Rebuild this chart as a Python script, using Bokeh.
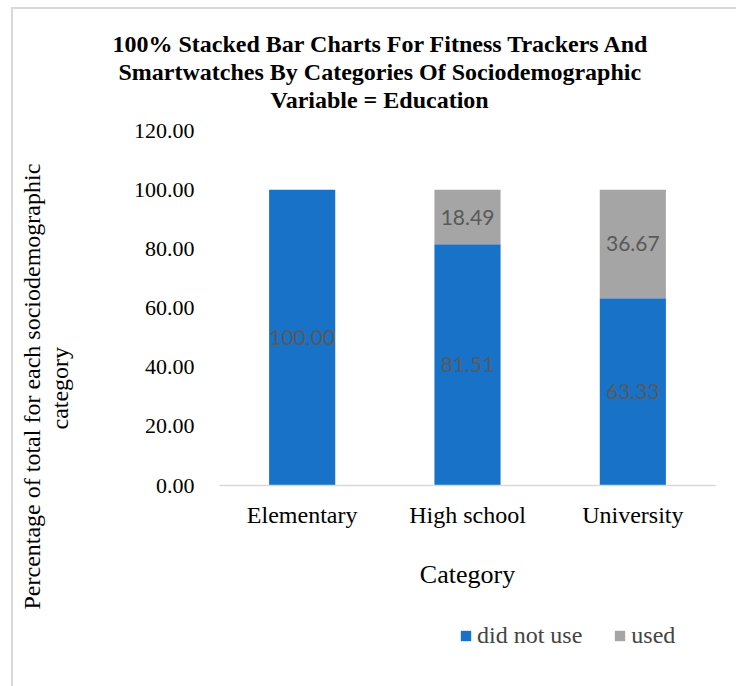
from bokeh.plotting import figure
from bokeh.layouts import column
from bokeh.models import (ColumnDataSource, FactorRange, Range1d, FixedTicker,
                          NumeralTickFormatter, Title, Legend, LegendItem)
from bokeh.core.properties import value
from bokeh.embed import file_html
from bokeh.resources import INLINE

categories = ["Elementary", "High school", "University"]
did_not_use = [100.00, 81.51, 63.33]
used = [0.00, 18.49, 36.67]
y_ticks = [0, 20, 40, 60, 80, 100, 120]
series = ["did_not_use", "used"]
series_labels = ["did not use", "used"]
colors = ["#1872C8", "#A5A5A5"]

title_lines = ["100% Stacked Bar Charts For Fitness Trackers And",
               "Smartwatches By Categories Of Sociodemographic",
               "Variable = Education"]
y_label_lines = ["Percentage of total for each sociodemographic", "category"]
x_label = "Category"

SERIF = "Liberation Serif"
W = 723

source = ColumnDataSource(dict(cat=categories, did_not_use=did_not_use, used=used))

p = figure(x_range=FactorRange(*categories, range_padding=0), y_range=Range1d(0, 120),
           width=W, height=611, output_backend="svg", toolbar_location=None,
           title=None, min_border_left=206, min_border_right=21,
           min_border_top=121, min_border_bottom=135, outline_line_color=None)

renderers = p.vbar_stack(series, x="cat", width=0.4, source=source, color=colors,
                         line_color=None)

# data labels
lab_x, lab_y, lab_t = [], [], []
for c, a, b in zip(categories, did_not_use, used):
    if a > 0:
        lab_x.append(c); lab_y.append(a / 2); lab_t.append(f"{a:.2f}")
    if b > 0:
        lab_x.append(c); lab_y.append(a + b / 2); lab_t.append(f"{b:.2f}")
lsrc = ColumnDataSource(dict(x=lab_x, y=lab_y, t=lab_t))
p.text(x="x", y="y", text="t", source=lsrc, text_align="center", text_baseline="middle",
       text_font=value("Lato"), text_font_size="21px", text_color="#595959")

# titles: spacer first (closest to frame), then line 3, 2, 1
p.add_layout(Title(text=" ", text_font_size="14px", standoff=0), "above")
offsets = [-107, -101, 51]
for line, off in reversed(list(zip(title_lines, offsets))):
    p.add_layout(Title(text=line, align="left", offset=off, standoff=0,
                       text_font=SERIF, text_font_style="bold", text_font_size="24px",
                       text_line_height=1.0, text_color="#000000"), "above")

# y axis label as two left-side titles (spacer, "category", "Percentage ...")
p.add_layout(Title(text=" ", text_font_size="10px", standoff=45), "left")
y_offsets = [-124, 56]
for line, off in reversed(list(zip(y_label_lines, y_offsets))):
    p.add_layout(Title(text=line, align="left", offset=off, standoff=0,
                       text_font=SERIF, text_font_style="normal", text_font_size="24px",
                       text_color="#000000"), "left")

# axes
p.yaxis.ticker = FixedTicker(ticks=y_ticks)
p.yaxis.formatter = NumeralTickFormatter(format="0.00")
p.yaxis.axis_line_color = None
p.yaxis.major_tick_line_color = None
p.yaxis.minor_tick_line_color = None
p.yaxis.major_label_standoff = 19
p.yaxis.major_label_text_font = SERIF
p.yaxis.major_label_text_font_size = "22px"
p.yaxis.major_label_text_color = "#000000"

p.xaxis.axis_line_color = "#D9D9D9"
p.xaxis.axis_line_width = 1.5
p.xaxis.major_tick_line_color = None
p.xaxis.minor_tick_line_color = None
p.xaxis.major_label_standoff = 10
p.xaxis.major_label_text_font = SERIF
p.xaxis.major_label_text_font_size = "24px"
p.xaxis.major_label_text_color = "#000000"
p.xaxis.axis_label = x_label
p.xaxis.axis_label_text_font = SERIF
p.xaxis.axis_label_text_font_size = "26px"
p.xaxis.axis_label_text_font_style = "normal"
p.xaxis.axis_label_text_color = "#000000"
p.xaxis.axis_label_standoff = 29

p.xgrid.grid_line_color = None
p.ygrid.grid_line_color = None

# legend in a separate strip below (its swatch renderers are hidden)
lg = figure(x_range=FactorRange(*categories, range_padding=0), y_range=Range1d(0, 120),
            width=W, height=66, output_backend="svg", toolbar_location=None,
            title=None, x_axis_type=None, y_axis_type=None, min_border=0,
            outline_line_color=None)
lg.grid.visible = False
leg_renderers = lg.vbar_stack(series, x="cat", width=0.4, source=source, color=colors,
                              line_color=None)
for r in leg_renderers:
    r.visible = False
legend = Legend(items=[LegendItem(label=l, renderers=[r]) for l, r in zip(series_labels, leg_renderers)],
                orientation="horizontal", location=(240, 37), border_line_color=None,
                background_fill_alpha=0, glyph_width=13, glyph_height=13,
                label_text_font=SERIF, label_text_font_size="24px", label_standoff=5,
                spacing=31, padding=0, margin=0, inactive_fill_alpha=0)
lg.add_layout(legend, "center")

layout = column(p, lg, spacing=0,
                styles={"margin-left": "11px", "margin-top": "7px",
                        "border-left": "2px solid #D9D9D9", "border-top": "2px solid #D9D9D9"})

open("out.html", "w").write(file_html(layout, INLINE))
